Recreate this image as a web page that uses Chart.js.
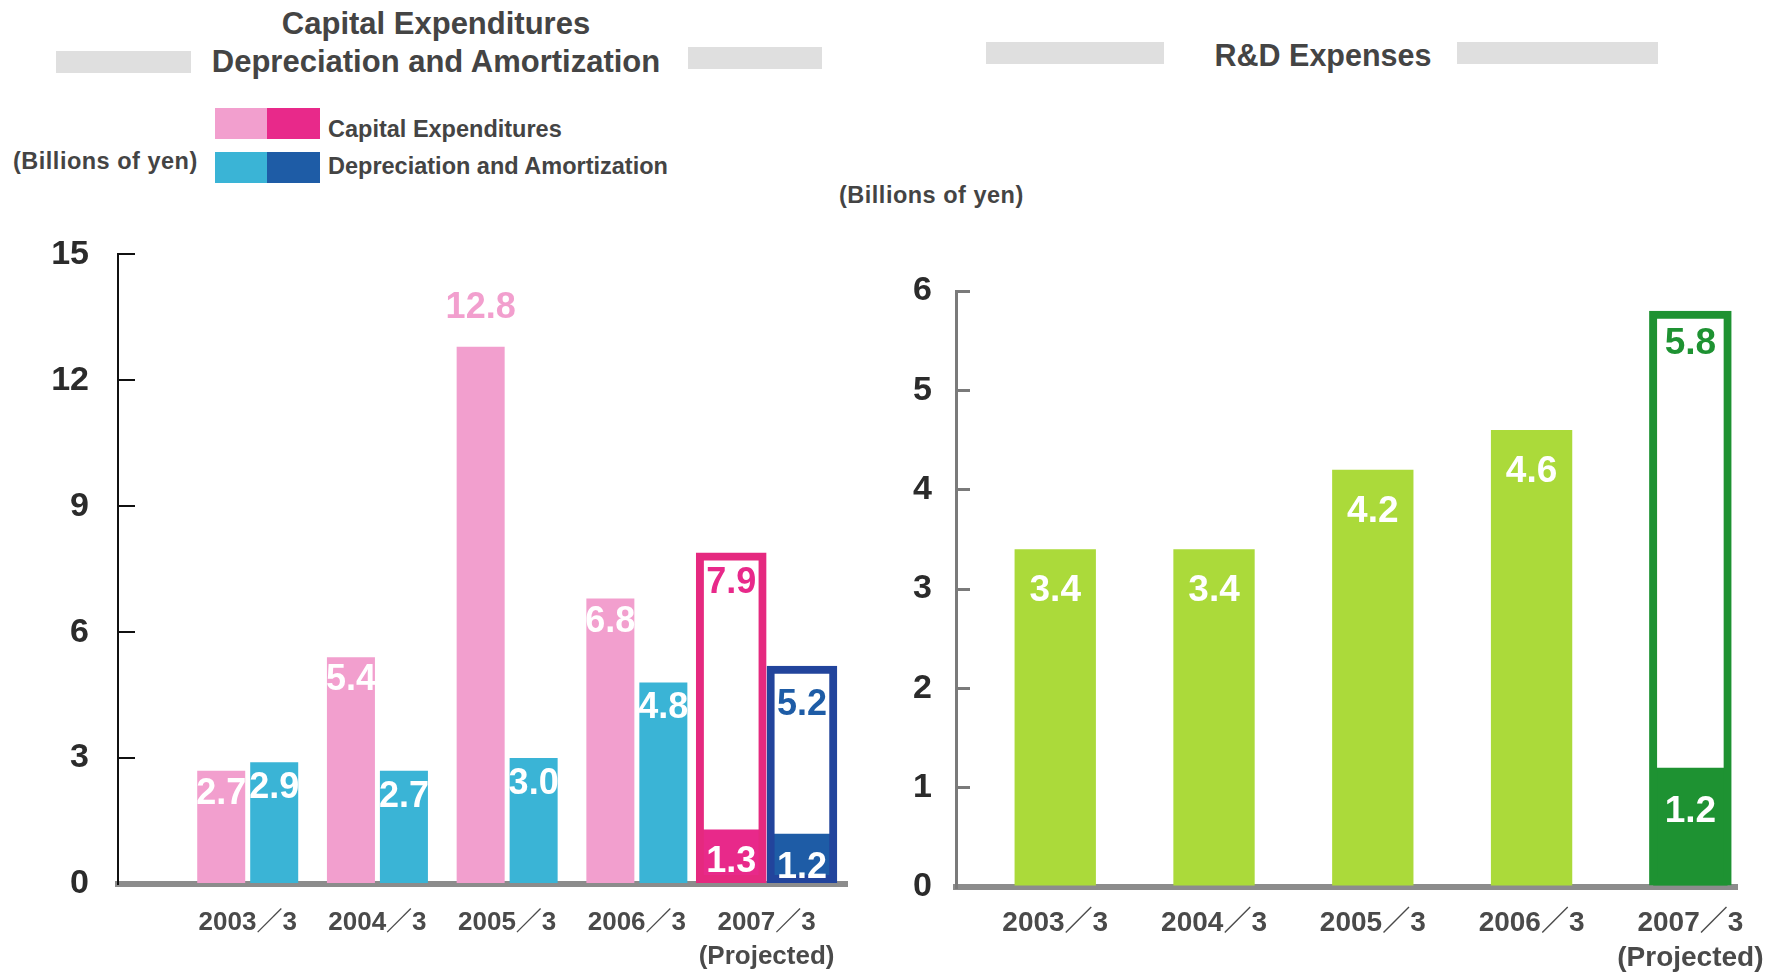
<!DOCTYPE html>
<html>
<head>
<meta charset="utf-8">
<script src="https://cdn.jsdelivr.net/npm/chart.js@4.4.0/dist/chart.umd.min.js"></script>
<style>
  body { margin: 0; background: #fff; width: 1785px; height: 972px; position: relative; overflow: hidden;
         font-family: "Liberation Sans", Arial, "Noto Sans CJK JP", sans-serif; font-weight: bold; color: #444; }
  .t { position: absolute; white-space: nowrap; line-height: 1; }
  .c { text-align: center; }
  .gbar { position: absolute; background: #dfdfdf; }
  .sw { position: absolute; width: 53px; height: 31px; }
  #wrap1 { position: absolute; left: 0; top: 188px; width: 880px; height: 784px; }
  #wrap2 { position: absolute; left: 880px; top: 200px; width: 905px; height: 772px; }
</style>
</head>
<body>

<!-- left title -->
<div class="gbar" style="left:56px;top:51px;width:135px;height:22px"></div>
<div class="gbar" style="left:688px;top:47px;width:134px;height:22px"></div>
<div class="t c" style="left:186px;width:500px;top:8px;font-size:31px">Capital Expenditures</div>
<div class="t c" style="left:186px;width:500px;top:46px;font-size:31px">Depreciation and Amortization</div>

<!-- legend -->
<div class="sw" style="left:215px;top:108px;background:#f29fce"></div>
<div class="sw" style="left:267px;top:108px;background:#e8298a"></div>
<div class="sw" style="left:215px;top:152px;background:#3ab4d6"></div>
<div class="sw" style="left:267px;top:152px;background:#1e5ca6"></div>
<div class="t" style="left:328px;top:118px;font-size:23.5px">Capital Expenditures</div>
<div class="t" style="left:328px;top:155px;font-size:23.5px">Depreciation and Amortization</div>
<div class="t" style="left:13px;top:150px;font-size:23.5px;letter-spacing:0.5px">(Billions of yen)</div>

<!-- right title -->
<div class="gbar" style="left:986px;top:42px;width:178px;height:22px"></div>
<div class="gbar" style="left:1457px;top:42px;width:201px;height:22px"></div>
<div class="t c" style="left:1173px;width:300px;top:40px;font-size:30.5px">R&amp;D Expenses</div>
<div class="t" style="left:839px;top:184px;font-size:23.5px;letter-spacing:0.5px">(Billions of yen)</div>

<div id="wrap1"><canvas id="capex"></canvas></div>
<div id="wrap2"><canvas id="rd"></canvas></div>

<script>
// ---- data (billions of yen) ----
const categories = ['2003／3', '2004／3', '2005／3', '2006／3', ['2007／3', '(Projected)']];

const capexActual     = [2.7, 5.4, 12.8, 6.8, null];
const deprActual      = [2.9, 2.7, 3.0, 4.8, null];
const capexPlan       = [null, null, null, null, 7.9];
const capexPlanFilled = [null, null, null, null, 1.3];
const deprPlan        = [null, null, null, null, 5.2];
const deprPlanFilled  = [null, null, null, null, 1.2];

const rdActual        = [3.4, 3.4, 4.2, 4.6, null];
const rdPlan          = [null, null, null, null, 5.8];
const rdPlanFilled    = [null, null, null, null, 1.2];

const capexTicks = [0, 3, 6, 9, 12, 15];
const rdTicks    = [0, 1, 2, 3, 4, 5, 6];

const FONT = '"Liberation Sans", Arial, "Noto Sans CJK JP", sans-serif';
Chart.defaults.font.family = FONT;
Chart.defaults.font.weight = 'bold';

// category index -> x position on a linear axis
function toPoints(arr) {
  return arr.map((v, i) => (v == null ? null : { x: i + 1, y: v })).filter(Boolean);
}

// draws the numbers on the bars
const valueLabels = {
  id: 'valueLabels',
  afterDatasetsDraw(chart) {
    const ctx = chart.ctx;
    chart.data.datasets.forEach((ds, di) => {
      const lab = ds.valueLabel;
      if (!lab) return;
      chart.getDatasetMeta(di).data.forEach((bar, i) => {
        const v = ds.data[i].y;
        let y = bar.y + lab.inset;
        ctx.save();
        ctx.font = 'bold ' + lab.size + 'px ' + FONT;
        ctx.fillStyle = lab.color;
        if (lab.aboveFrom != null && v >= lab.aboveFrom) {
          y = bar.y - lab.above;
          ctx.fillStyle = lab.aboveColor;
        }
        ctx.textAlign = 'center';
        ctx.textBaseline = 'middle';
        ctx.fillText(v.toFixed(1), bar.x, y);
        ctx.restore();
      });
    });
  }
};

function xAxis(min, max, height, pad, size, lh) {
  return {
    type: 'linear', min, max, offset: false,
    grid: { display: false, drawTicks: false },
    border: { color: '#8c8c8c', width: 6 },
    afterBuildTicks: s => { s.ticks = categories.map((c, i) => ({ value: i + 1 })); },
    afterFit: s => { s.height = height; },
    ticks: {
      autoSkip: false, maxRotation: 0, padding: pad, color: '#4a4a4a',
      font: { size, weight: 'bold', lineHeight: lh },
      callback: (v, i) => categories[i]
    }
  };
}

function yAxis(max, ticksArr, width, tick, pad, col, bw) {
  return {
    min: 0, max, stacked: false,
    afterBuildTicks: s => { s.ticks = ticksArr.map(v => ({ value: v })); },
    afterFit: s => { s.width = width; },
    grid: { drawOnChartArea: false, tickLength: -tick, color: col, lineWidth: bw },
    border: { color: col, width: bw },
    ticks: { padding: pad, color: '#2b2b2b', font: { size: 34, weight: 'bold' } }
  };
}

new Chart(document.getElementById('capex'), {
  type: 'bar',
  data: {
    datasets: [
      { label: 'Capital Expenditures (projected)', data: toPoints(capexPlan), stack: 'c',
        backgroundColor: 'rgba(255,255,255,0)', borderColor: '#e5297f', borderWidth: 8, borderSkipped: false,
        inflateAmount: 0, categoryPercentage: 1.09, barPercentage: 1,
        valueLabel: { color: '#e8298a', inset: 31, size: 36 } },
      { label: 'Depreciation and Amortization (projected)', data: toPoints(deprPlan), stack: 'd',
        backgroundColor: 'rgba(255,255,255,0)', borderColor: '#22449c', borderWidth: 8, borderSkipped: false,
        inflateAmount: 0, categoryPercentage: 1.09, barPercentage: 1,
        valueLabel: { color: '#1e5ca6', inset: 39, size: 36 } },
      { label: 'Capital Expenditures (projected, filled)', data: toPoints(capexPlanFilled), stack: 'c',
        backgroundColor: '#e8298a', categoryPercentage: 1.09, barPercentage: 0.9,
        valueLabel: { color: '#fff', inset: 33, size: 36 } },
      { label: 'Depreciation and Amortization (projected, filled)', data: toPoints(deprPlanFilled), stack: 'd',
        backgroundColor: '#1e5ca6', categoryPercentage: 1.09, barPercentage: 0.9,
        valueLabel: { color: '#fff', inset: 34, size: 36 } },
      { label: 'Capital Expenditures', data: toPoints(capexActual), stack: 'c',
        backgroundColor: '#f29fce', categoryPercentage: 0.817, barPercentage: 0.906,
        valueLabel: { color: '#fff', inset: 23, size: 36, aboveFrom: 12, above: 39, aboveColor: '#f29fce' } },
      { label: 'Depreciation and Amortization', data: toPoints(deprActual), stack: 'd',
        backgroundColor: '#3ab4d6', categoryPercentage: 0.817, barPercentage: 0.906,
        valueLabel: { color: '#fff', inset: 26, size: 36 } }
    ]
  },
  options: {
    responsive: true, maintainAspectRatio: false, animation: false,
    layout: { padding: { top: 0, right: 33, left: 0, bottom: 0 } },
    datasets: { bar: { skipNull: true } },
    plugins: { legend: { display: false }, tooltip: { enabled: false } },
    scales: {
      x: xAxis(0, 5.62, 88, 22, 26, 1.3),
      y: yAxis(15, capexTicks, 118, 17, 46, '#111', 2)
    }
  },
  plugins: [valueLabels]
});

new Chart(document.getElementById('rd'), {
  type: 'bar',
  data: {
    datasets: [
      { label: 'R&D Expenses (projected)', data: toPoints(rdPlan), stack: 'g',
        backgroundColor: 'rgba(255,255,255,0)', borderColor: '#1e9232', borderWidth: 8, borderSkipped: false,
        inflateAmount: 0, categoryPercentage: 0.52, barPercentage: 1,
        valueLabel: { color: '#1e9232', inset: 33, size: 37 } },
      { label: 'R&D Expenses (projected, filled)', data: toPoints(rdPlanFilled), stack: 'g',
        backgroundColor: '#1e9232', categoryPercentage: 0.52, barPercentage: 0.9,
        valueLabel: { color: '#fff', inset: 44, size: 37 } },
      { label: 'R&D Expenses', data: toPoints(rdActual), stack: 'g',
        backgroundColor: '#abda3a', categoryPercentage: 0.52, barPercentage: 0.985,
        valueLabel: { color: '#fff', inset: 42, size: 37 } }
    ]
  },
  options: {
    responsive: true, maintainAspectRatio: false, animation: false,
    layout: { padding: { top: 91, right: 42, left: 0, bottom: 0 } },
    datasets: { bar: { skipNull: true } },
    plugins: { legend: { display: false }, tooltip: { enabled: false } },
    scales: {
      x: xAxis(0.375, 5.294, 85, 19, 28, 1.24),
      y: yAxis(6, rdTicks, 76, 14, 38, '#7a7a7a', 3)
    }
  },
  plugins: [valueLabels]
});
</script>
</body>
</html>
